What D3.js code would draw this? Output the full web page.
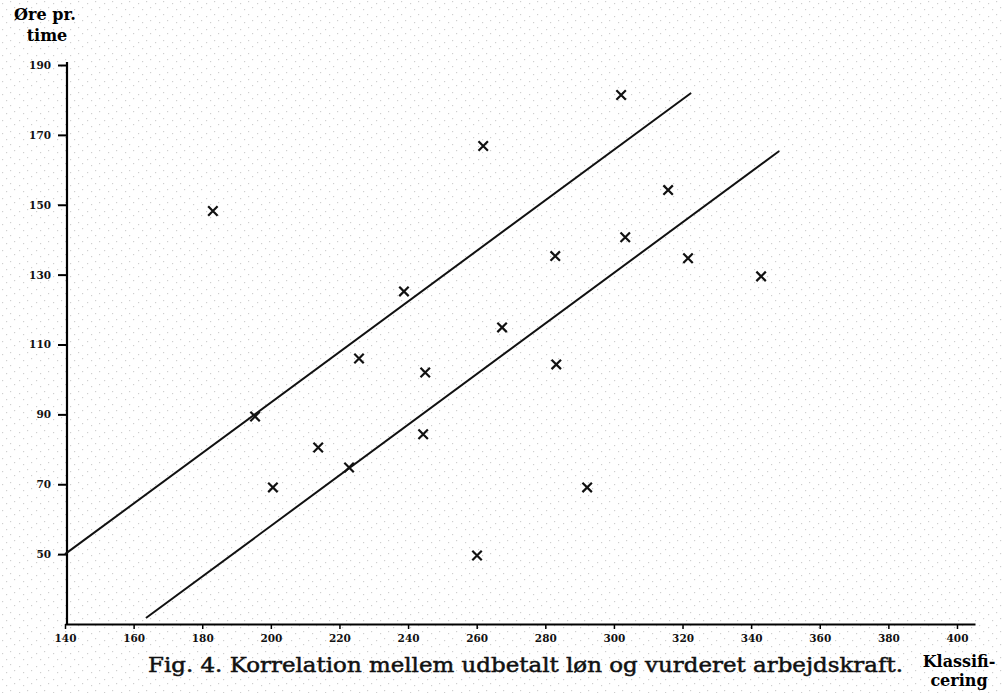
<!DOCTYPE html>
<html>
<head>
<meta charset="utf-8">
<script src="https://cdn.jsdelivr.net/npm/d3@7"></script>
<style>
  body { margin: 0; background: #fff; }
  svg { display: block; }
</style>
</head>
<body>
<div id="chart"></div>
<script>
// data
var xTicks = [140, 160, 180, 200, 220, 240, 260, 280, 300, 320, 340, 360, 380, 400];
var yTicks = [50, 70, 90, 110, 130, 150, 170, 190];

// klassificering (x) and øre pr. time (y) of each observation
var pointX = [183.1, 195.4, 200.6, 213.8, 222.8, 225.7, 238.8, 245.0, 244.4, 261.9,
              260.1, 267.4, 282.9, 283.2, 292.2, 302.1, 303.3, 315.8, 321.6, 342.9];
var pointY = [148.2, 89.4, 69.1, 80.5, 74.8, 106.0, 125.2, 102.0, 84.3, 166.8,
              49.6, 114.9, 135.3, 104.3, 69.1, 181.4, 140.7, 154.2, 134.7, 129.5];

// the two parallel band lines: start and end points
var lineStartX = [140, 163.6];
var lineStartY = [50, 31.7];
var lineEndX = [322.5, 348.2];
var lineEndY = [182, 165.4];

var width = 1004, height = 693;

var svg = d3.select("#chart")
  .append("svg")
  .attr("width", width)
  .attr("height", height);

// faint paper speckle
var pat = svg.append("defs").append("pattern")
  .attr("id", "speck")
  .attr("width", 17).attr("height", 13)
  .attr("patternUnits", "userSpaceOnUse");
[[2, 3], [10, 1], [6, 9], [14, 7]].forEach(function(p) {
  pat.append("rect").attr("x", p[0]).attr("y", p[1])
    .attr("width", 1.2).attr("height", 1.2).attr("fill", "#cfcfcf");
});
svg.append("rect").attr("width", width).attr("height", height).attr("fill", "url(#speck)");

var x = d3.scaleLinear().domain([140, 405.25]).range([65, 975]);
var y = d3.scaleLinear().domain([30, 190]).range([624, 65]);

var serif = "'DejaVu Serif', 'Liberation Serif', serif";

// x axis
var xAxis = svg.append("g")
  .attr("transform", "translate(0," + y(30) + ")")
  .call(d3.axisBottom(x).tickValues(xTicks).tickSize(5).tickSizeOuter(0).tickPadding(6));
xAxis.select(".domain").attr("stroke-width", 2.2);
xAxis.selectAll(".tick line").attr("stroke-width", 1.5);
xAxis.selectAll(".tick text")
  .attr("font-family", serif)
  .attr("font-weight", "bold")
  .attr("font-size", 10.5)
  .attr("fill", "#111");

// y axis
var yAxis = svg.append("g")
  .attr("transform", "translate(" + (x(140) + 2) + ",0)")
  .call(d3.axisLeft(y).tickValues(yTicks).tickSize(9).tickSizeOuter(0).tickPadding(7));
yAxis.select(".domain").attr("d", "M0," + (y(190) - 3) + "V" + y(30)).attr("stroke-width", 2.2);
yAxis.selectAll(".tick line").attr("stroke-width", 2);
yAxis.selectAll(".tick text")
  .attr("font-family", serif)
  .attr("font-weight", "bold")
  .attr("font-size", 10.5)
  .attr("fill", "#111");

// band lines
svg.selectAll("line.band")
  .data(lineStartX)
  .enter()
  .append("line")
  .attr("class", "band")
  .attr("x1", function(d, i) { return x(lineStartX[i]); })
  .attr("y1", function(d, i) { return y(lineStartY[i]); })
  .attr("x2", function(d, i) { return x(lineEndX[i]); })
  .attr("y2", function(d, i) { return y(lineEndY[i]); })
  .attr("stroke", "#111")
  .attr("stroke-width", 2);

// crosses
var cross = d3.symbol().type(d3.symbolX).size(60);
svg.selectAll("path.pt")
  .data(pointX)
  .enter()
  .append("path")
  .attr("class", "pt")
  .attr("d", cross)
  .attr("transform", function(d, i) { return "translate(" + x(pointX[i]) + "," + y(pointY[i]) + ")"; })
  .attr("fill", "none")
  .attr("stroke", "#111")
  .attr("stroke-width", 2.2);

// axis titles
svg.append("text")
  .attr("x", 45).attr("y", 20)
  .attr("text-anchor", "middle")
  .attr("font-family", serif).attr("font-weight", "bold").attr("font-size", 16)
  .text("Øre pr.");
svg.append("text")
  .attr("x", 47).attr("y", 41)
  .attr("text-anchor", "middle")
  .attr("font-family", serif).attr("font-weight", "bold").attr("font-size", 16)
  .text("time");

svg.append("text")
  .attr("x", 959).attr("y", 667)
  .attr("text-anchor", "middle")
  .attr("font-family", serif).attr("font-weight", "bold").attr("font-size", 16)
  .text("Klassifi-");
svg.append("text")
  .attr("x", 959).attr("y", 686)
  .attr("text-anchor", "middle")
  .attr("font-family", serif).attr("font-weight", "bold").attr("font-size", 16)
  .text("cering");

// caption
svg.append("text")
  .attr("x", 148).attr("y", 672)
  .attr("textLength", 755)
  .attr("lengthAdjust", "spacingAndGlyphs")
  .attr("font-family", serif).attr("font-size", 21).attr("fill", "#111")
  .attr("stroke", "#111").attr("stroke-width", 0.5)
  .text("Fig. 4.  Korrelation mellem udbetalt løn og vurderet arbejdskraft.");
</script>
</body>
</html>
